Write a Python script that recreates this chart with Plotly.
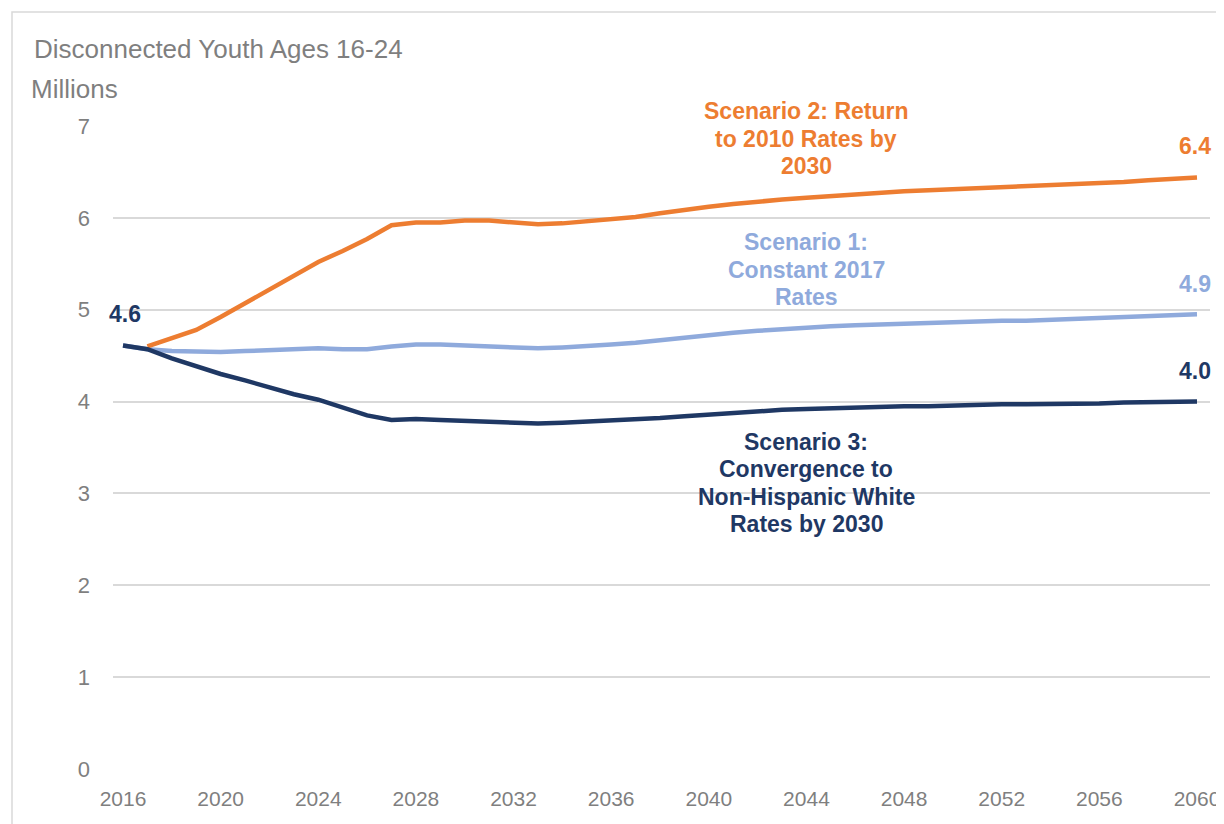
import plotly.graph_objects as go

years = list(range(2016, 2061))

scenario1 = [4.61, 4.57, 4.55, 4.54, 4.54, 4.55, 4.56, 4.57, 4.58, 4.57,
             4.57, 4.60, 4.62, 4.62, 4.61, 4.61, 4.59, 4.58, 4.59, 4.60,
             4.62, 4.64, 4.67, 4.70, 4.72, 4.75, 4.77, 4.79, 4.80, 4.82,
             4.83, 4.84, 4.85, 4.86, 4.87, 4.87, 4.88, 4.88, 4.89, 4.90,
             4.91, 4.92, 4.93, 4.94, 4.95]

scenario2 = [None, 4.60, 4.69, 4.78, 4.92, 5.07, 5.22, 5.37, 5.52, 5.64,
             5.77, 5.92, 5.95, 5.95, 5.97, 5.97, 5.95, 5.93, 5.94, 5.96,
             5.98, 6.01, 6.05, 6.09, 6.12, 6.15, 6.18, 6.20, 6.22, 6.24,
             6.26, 6.27, 6.29, 6.30, 6.31, 6.32, 6.33, 6.34, 6.35, 6.36,
             6.38, 6.39, 6.41, 6.42, 6.44]

scenario3 = [4.61, 4.57, 4.47, 4.38, 4.30, 4.23, 4.15, 4.08, 4.02, 3.93,
             3.85, 3.80, 3.81, 3.80, 3.79, 3.78, 3.77, 3.76, 3.77, 3.78,
             3.79, 3.80, 3.82, 3.84, 3.86, 3.88, 3.90, 3.91, 3.92, 3.93,
             3.94, 3.94, 3.95, 3.95, 3.96, 3.96, 3.97, 3.97, 3.97, 3.98,
             3.98, 3.99, 3.99, 4.00, 4.00]

x_ticks = list(range(2016, 2061, 4))
y_ticks = [0, 1, 2, 3, 4, 5, 6, 7]

label_start = "4.6"
end_labels = ["4.9", "6.4", "4.0"]
scenario1_lines = ["Scenario 1:", "Constant 2017", "Rates"]
scenario2_lines = ["Scenario 2: Return", "to 2010 Rates by", "2030"]
scenario3_lines = ["Scenario 3:", "Convergence to", "Non-Hispanic White",
                   "Rates by 2030"]
chart_title = "Disconnected Youth Ages 16-24"
unit_label = "Millions"

C1 = "#8FAADC"
C2 = "#ED7D31"
C3 = "#1F3864"
GRAY = "#7F7F7F"
GRID = "#D9D9D9"
FONT = "Liberation Sans, Arial, sans-serif"

# The page body has an 8px margin; lay out in page pixels and shift.
OFF = 8
W, H = 1224 - OFF, 824 - OFF
plot_left, plot_right, plot_top, plot_bottom = 113, 1210, 126, 769
L = plot_left - OFF
R = W - (plot_right - OFF)
T = plot_top - OFF
B = H - (plot_bottom - OFF)
PW, PH = W - L - R, H - T - B


def px(x):
    return (x - OFF - L) / PW


def py(y):
    return (H - B - (y - OFF)) / PH


fig = go.Figure()
for vals, col in [(scenario1, C1), (scenario2, C2), (scenario3, C3)]:
    fig.add_trace(go.Scatter(x=years, y=vals, mode="lines",
                             line=dict(color=col, width=4.5),
                             hoverinfo="skip", showlegend=False))

annos = []


def text_at(x, y, txt, col, size, bold=True, anchor="center"):
    annos.append(dict(x=px(x), y=py(y), xref="paper", yref="paper",
                      text=f"<b>{txt}</b>" if bold else txt,
                      showarrow=False, xanchor=anchor, yanchor="middle",
                      font=dict(color=col, size=size, family=FONT)))


text_at(125, 314, label_start, C3, 23)
text_at(1195, 146, end_labels[1], C2, 23)
text_at(1195, 284, end_labels[0], C1, 23)
text_at(1195, 371, end_labels[2], C3, 23)

for lines, col, ys in [(scenario2_lines, C2, [111, 139, 166]),
                       (scenario1_lines, C1, [242, 270, 297]),
                       (scenario3_lines, C3, [442, 469, 497, 524])]:
    for ln, yy in zip(lines, ys):
        text_at(806, yy, ln, col, 23)

text_at(32, 49, chart_title, GRAY, 26, bold=False, anchor="left")
text_at(29, 89, unit_label, GRAY, 26, bold=False, anchor="left")

shapes = [dict(type="rect", xref="paper", yref="paper",
               x0=px(12), x1=px(1224 + 30), y0=py(824 + 30), y1=py(12),
               line=dict(color=GRID, width=1.5), fillcolor="rgba(0,0,0,0)",
               layer="below")]

ppy = (1197 - 123) / 44
x_left = 2016 - (123 - plot_left) / ppy
x_right = 2060 + (plot_right - 1197) / ppy

fig.update_layout(
    width=W, height=H,
    margin=dict(l=L, r=R, t=T, b=B, autoexpand=False),
    paper_bgcolor="white", plot_bgcolor="white",
    annotations=annos, shapes=shapes,
    font=dict(family=FONT, color=GRAY),
    xaxis=dict(range=[x_left, x_right], tickvals=x_ticks,
               ticktext=[str(v) for v in x_ticks], showgrid=False,
               zeroline=False, showline=False, ticks="",
               ticklabelstandoff=15,
               tickfont=dict(size=21, color=GRAY, family=FONT)),
    yaxis=dict(range=[0, 7], tickvals=y_ticks, showgrid=True,
               gridcolor=GRID, gridwidth=2, zeroline=False, showline=False,
               ticks="", ticklabelstandoff=22,
               tickfont=dict(size=22, color=GRAY, family=FONT)),
)

fig.write_html("out.html")
